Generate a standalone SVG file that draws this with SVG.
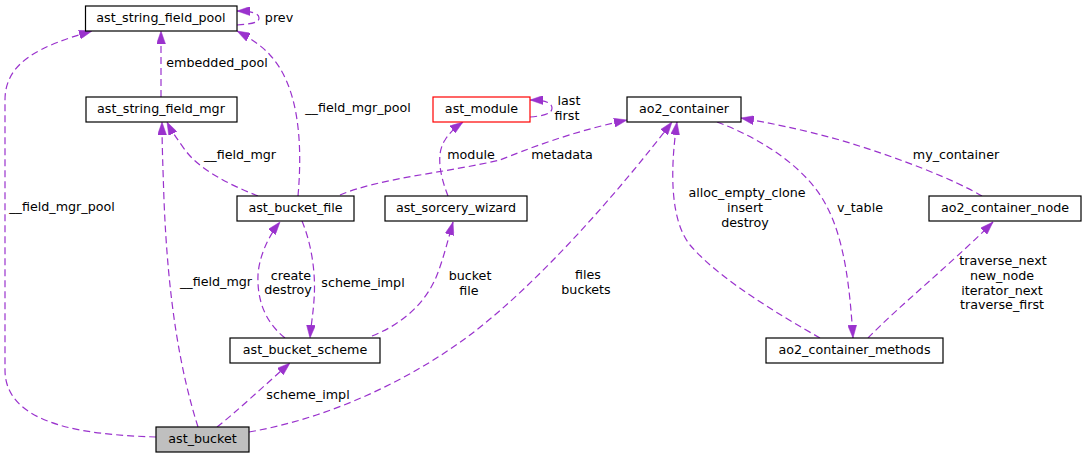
<svg xmlns="http://www.w3.org/2000/svg" width="1087" height="459" viewBox="0 0 1087 459">
<style>
.node rect{fill:#ffffff;stroke:#000000;stroke-width:1.2}
.node text,.lbl{font-family:"DejaVu Sans","Liberation Sans",sans-serif;font-size:12.7px;fill:#000000;text-anchor:middle}
.edge{fill:none;stroke:#9a32cd;stroke-width:1.2;stroke-dasharray:7,4;marker-end:url(#arr)}
</style>
<defs>
<marker id="arr" markerUnits="userSpaceOnUse" markerWidth="13" markerHeight="9" viewBox="0 0 13 9" refX="13" refY="4.5" orient="auto">
<path d="M0,0 L13,4.5 L0,9 z" fill="#9a32cd" stroke="#9a32cd" stroke-width="0.5"/>
</marker>
</defs>
<rect width="1087" height="459" fill="#ffffff"/>
<g id="connectors">
<path class="edge" d="M156,437 C95,435 5,428 5,370 L5,100 C5,62 40,46 92,31"/>
<path class="edge" d="M237,25 C250,24 259,23 259,18 C259,13 250,11 237,11"/>
<path class="edge" d="M161,97 L161,31"/>
<path class="edge" d="M298,196 C303,140 298,85 270,55 C262,46 250,38 237,31"/>
<path class="edge" d="M258,196 C230,185 200,170 185,150 C178,140 172,132 167,122"/>
<path class="edge" d="M198,427 C180,370 168,300 164,200 C163,170 162,145 162,122"/>
<path class="edge" d="M448,196 C441,178 435,155 445,140 C450,132 456,127 463,122"/>
<path class="edge" d="M530,117 C543,116 552,114 552,108 C552,102 543,100 530,100"/>
<path class="edge" d="M340,195 C380,178 450,172 500,160 C525,150 570,132 627,120"/>
<path class="edge" d="M302,221 C312,245 316,275 314,300 C313,315 311,325 310,338"/>
<path class="edge" d="M285,338 C265,322 257,300 258,275 C259,258 267,238 280,222"/>
<path class="edge" d="M372,336 C400,325 425,305 437,275 C443,260 448,240 453,222"/>
<path class="edge" d="M217,427 C235,413 265,385 290,363"/>
<path class="edge" d="M249,432 C330,418 410,380 470,335 C540,282 620,190 672,122"/>
<path class="edge" d="M820,338 C780,315 720,280 690,245 C670,220 670,170 677,122"/>
<path class="edge" d="M717,122 C765,140 808,170 826,205 C845,240 850,290 853,338"/>
<path class="edge" d="M982,196 C955,180 900,158 840,140 C800,129 770,123 741,118"/>
<path class="edge" d="M868,338 C900,305 950,265 993,222"/>
<text class="lbl" x="62" y="211">__field_mgr_pool</text>
<text class="lbl" x="279" y="22">prev</text>
<text class="lbl" x="217" y="67">embedded_pool</text>
<text class="lbl" x="358" y="112">__field_mgr_pool</text>
<text class="lbl" x="240" y="159">__field_mgr</text>
<text class="lbl" x="569" y="105">last</text>
<text class="lbl" x="567" y="120">first</text>
<text class="lbl" x="471" y="159">module</text>
<text class="lbl" x="562" y="159">metadata</text>
<text class="lbl" x="216" y="286">__field_mgr</text>
<text class="lbl" x="291" y="280">create</text>
<text class="lbl" x="288" y="294">destroy</text>
<text class="lbl" x="363" y="287">scheme_impl</text>
<text class="lbl" x="470" y="280">bucket</text>
<text class="lbl" x="469" y="295">file</text>
<text class="lbl" x="588" y="279">files</text>
<text class="lbl" x="586" y="294">buckets</text>
<text class="lbl" x="308" y="399">scheme_impl</text>
<text class="lbl" x="747" y="197">alloc_empty_clone</text>
<text class="lbl" x="745" y="212">insert</text>
<text class="lbl" x="745" y="227">destroy</text>
<text class="lbl" x="860" y="212">v_table</text>
<text class="lbl" x="956" y="159">my_container</text>
<text class="lbl" x="1003" y="265">traverse_next</text>
<text class="lbl" x="1002" y="280">new_node</text>
<text class="lbl" x="1002" y="295">iterator_next</text>
<text class="lbl" x="1002" y="309">traverse_first</text>
</g>
<g id="ast_string_field_pool" class="node"><rect x="85.5" y="6" width="151.5" height="25"/><text x="161" y="22.3">ast_string_field_pool</text></g>
<g id="ast_string_field_mgr" class="node"><rect x="86" y="97" width="151" height="25"/><text x="161" y="113.3">ast_string_field_mgr</text></g>
<g id="ast_module" class="node"><rect x="433" y="97" width="97" height="25" style="stroke:#ff0000"/><text x="481.5" y="113.3">ast_module</text></g>
<g id="ao2_container" class="node"><rect x="627" y="97" width="114" height="25"/><text x="684" y="113.3">ao2_container</text></g>
<g id="ast_bucket_file" class="node"><rect x="237" y="196" width="117" height="25"/><text x="295.5" y="212.3">ast_bucket_file</text></g>
<g id="ast_sorcery_wizard" class="node"><rect x="385" y="196" width="142" height="25"/><text x="456" y="212.3">ast_sorcery_wizard</text></g>
<g id="ao2_container_node" class="node"><rect x="929" y="196" width="152" height="25"/><text x="1005" y="212.3">ao2_container_node</text></g>
<g id="ast_bucket_scheme" class="node"><rect x="230" y="338" width="150" height="25"/><text x="305" y="354.3">ast_bucket_scheme</text></g>
<g id="ao2_container_methods" class="node"><rect x="766" y="338" width="177" height="25"/><text x="854.5" y="354.3">ao2_container_methods</text></g>
<g id="ast_bucket" class="node"><rect x="156" y="427" width="93" height="25" style="fill:#bfbfbf"/><text x="202.5" y="443.3">ast_bucket</text></g>
</svg>
